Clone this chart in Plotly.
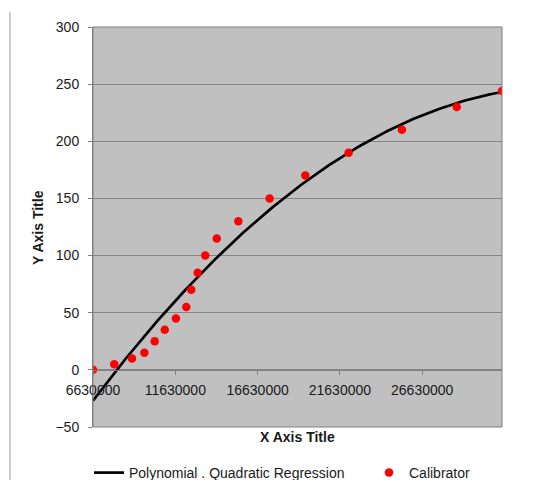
import numpy as np
import plotly.graph_objects as go

# Calibrator data
cal_x = [6630000, 7920000, 9000000, 9750000, 10380000, 10990000, 11670000,
         12300000, 12600000, 12990000, 13450000, 14150000, 15460000, 17360000,
         19530000, 22160000, 25400000, 28730000, 31480000]
cal_y = [0, 5, 10, 15, 25, 35, 45, 55, 70, 85, 100, 115, 130, 150,
         170, 190, 210, 230, 244]

x_ticks = [6630000, 11630000, 16630000, 21630000, 26630000]
y_ticks = [-50, 0, 50, 100, 150, 200, 250, 300]

# Quadratic regression of the calibrator data
coef = np.polyfit(cal_x, cal_y, 2)
fit_x = np.linspace(min(cal_x), max(cal_x), 200)
fit_y = np.polyval(coef, fit_x)

FONT = "Liberation Sans, Arial, sans-serif"
OFF = 8                      # page body margin
W, H = 546 - 2 * OFF, 488 - 2 * OFF
# plot area in screen pixels: x 93..502, y 27..427
L, T = 93 - OFF, 27 - OFF
R, B = W - (502 - OFF), H - (427 - OFF)
PH = H - T - B
PW = W - L - R


def px_x(sx):   # screen x -> paper fraction
    return (sx - OFF - L) / PW


def px_y(sy):   # screen y -> paper fraction
    return (H - B - (sy - OFF)) / PH


fig = go.Figure()
fig.add_trace(go.Scatter(
    x=fit_x, y=fit_y, mode="lines",
    line=dict(color="black", width=2.7),
    name="Polynomial . Quadratic Regression", legend="legend"))
fig.add_trace(go.Scatter(
    x=cal_x, y=cal_y, mode="markers",
    marker=dict(color="#ff0000", size=8.5),
    name="Calibrator", legend="legend2"))

fig.update_layout(
    width=W, height=H,
    margin=dict(l=L, r=R, t=T, b=B, autoexpand=False),
    paper_bgcolor="white", plot_bgcolor="#c0c0c0",
    font=dict(family=FONT, size=14, color="#1a1a1a"),
    showlegend=True,
    legend=dict(xref="container", yref="container",
                x=(89 - OFF) / W, y=1 - (473 - OFF) / H,
                xanchor="left", yanchor="middle",
                orientation="h", font=dict(size=14, color="#1a1a1a"),
                bgcolor="rgba(0,0,0,0)"),
    legend2=dict(xref="container", yref="container",
                 x=(369 - OFF) / W, y=1 - (473 - OFF) / H,
                 xanchor="left", yanchor="middle",
                 orientation="h", font=dict(size=14, color="#1a1a1a"),
                 bgcolor="rgba(0,0,0,0)"),
    xaxis=dict(range=[min(cal_x), max(cal_x)], tickvals=x_ticks,
               tickformat="d", showgrid=False, zeroline=False,
               anchor="free", position=50/350, automargin=False,
               showline=True, linecolor="#808080", linewidth=1,
               ticks="outside", ticklen=4, tickcolor="#808080",
               ticklabelstandoff=3,
               tickfont=dict(size=14, color="#1a1a1a")),
    yaxis=dict(range=[-50, 300], tickvals=y_ticks, showgrid=True,
               gridcolor="#858585", gridwidth=1, zeroline=False,
               automargin=False,
               showline=True, linecolor="#808080", linewidth=1,
               ticks="outside", ticklen=4, tickcolor="#808080",
               ticklabelstandoff=6,
               tickfont=dict(size=14, color="#1a1a1a")),
    shapes=[
        dict(type="rect", xref="paper", yref="paper", x0=0, x1=1, y0=0, y1=1,
             line=dict(color="#808080", width=1), fillcolor="rgba(0,0,0,0)"),
        dict(type="line", xref="paper", yref="paper",
             x0=px_x(10), x1=px_x(10), y0=px_y(12), y1=px_y(488),
             line=dict(color="#999999", width=1)),
    ],
    annotations=[
        dict(text="<b>X Axis Title</b>", xref="paper", yref="paper",
             x=0.5, y=px_y(437), xanchor="center", yanchor="middle",
             showarrow=False, font=dict(size=14, color="#1a1a1a")),
        dict(text="<b>Y Axis Title</b>", xref="paper", yref="paper",
             x=px_x(38), y=0.5, xanchor="center", yanchor="middle",
             textangle=-90, showarrow=False, font=dict(size=14, color="#1a1a1a")),
    ],
)

fig.write_html("out.html")
